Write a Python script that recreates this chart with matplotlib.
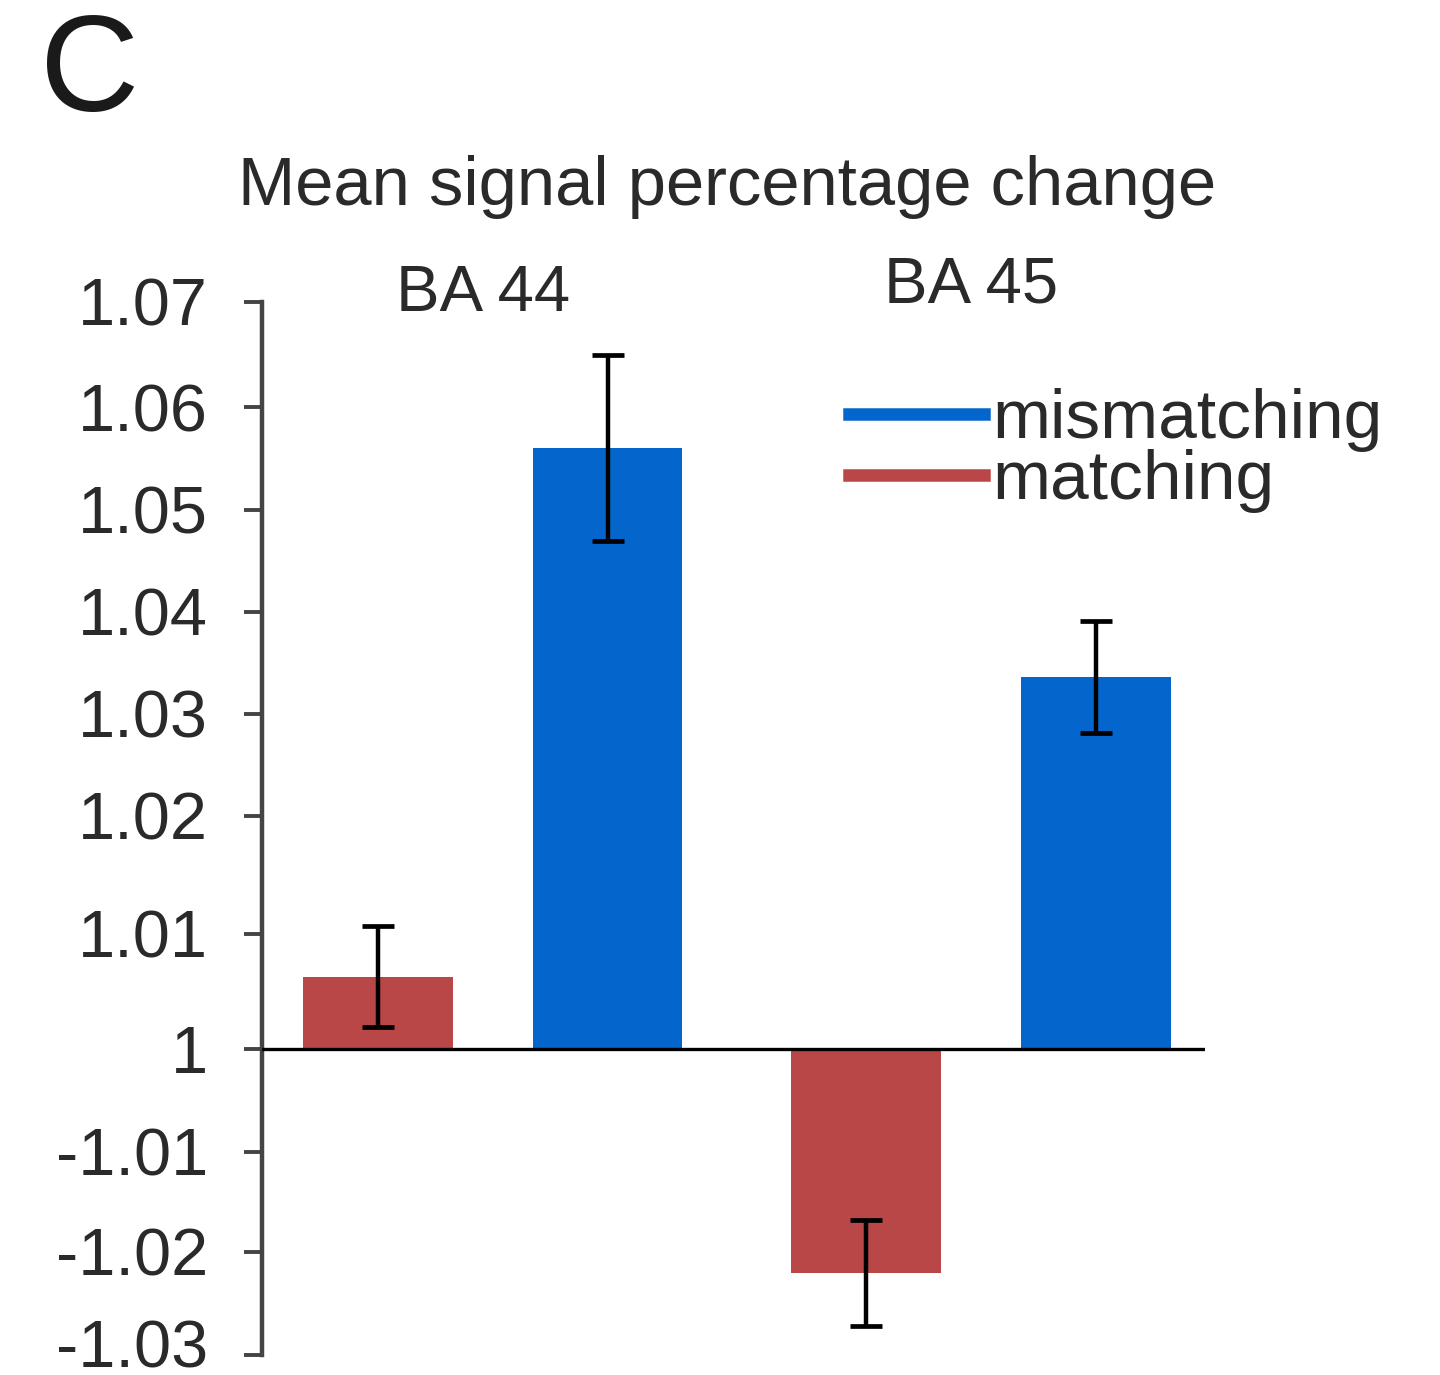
import numpy as np
import matplotlib.pyplot as plt
import matplotlib.transforms as mtransforms
from matplotlib.lines import Line2D

plt.rcParams['font.family'] = ['Liberation Sans', 'DejaVu Sans']

# data
regions = ["BA 44", "BA 45"]
mismatching = [1.056, 1.0336]
mismatching_err = [0.0090, 0.0055]
matching = [1.0063, -1.022]
matching_err = [0.0044, 0.0052]

tick_values = [-1.03, -1.02, -1.01, 1, 1.01, 1.02, 1.03, 1.04, 1.05, 1.06, 1.07]
tick_labels = ["-1.03", "-1.02", "-1.01", "1", "1.01", "1.02", "1.03",
               "1.04", "1.05", "1.06", "1.07"]
# relative gap between neighbouring ticks, as drawn in the original
tick_gaps = [103, 100, 103, 115, 118, 102, 102, 102, 103, 105]

BLUE = "#0466CC"
RED = "#B94747"
TXT = "#2a2a2a"


def to_offset(v):
    # the chart's axis counts hundredths away from +/-1
    v = np.asarray(v, dtype=float)
    return np.sign(v) * (np.abs(v) - 1) * 100


tick_off = to_offset(tick_values)
tick_pos = np.concatenate([[0], np.cumsum(tick_gaps)]) / np.sum(tick_gaps)


def forward(y):
    return np.interp(y, tick_off, tick_pos)


def inverse(u):
    return np.interp(u, tick_pos, tick_off)


fig = plt.figure(figsize=(14.4, 13.75), dpi=100)
ax = fig.add_axes([262 / 1440, 1 - 1355 / 1375, (1205 - 262) / 1440, 1053 / 1375])
ax.set_yscale('function', functions=(forward, inverse))

x = np.arange(1, len(regions) + 1)
w = 0.307
off = 0.235
ekw = dict(ecolor='black', elinewidth=3.2, capsize=11.5, capthick=3.4)
ax.bar(x - off, to_offset(matching), w, color=RED,
       yerr=np.array(matching_err) * 100, error_kw=ekw, zorder=2)
ax.bar(x + off, to_offset(mismatching), w, color=BLUE,
       yerr=np.array(mismatching_err) * 100, error_kw=ekw, zorder=2)

ax.axhline(0, color='black', lw=2.4, zorder=3)
ax.set_xlim(1 - 0.473, 2 + 0.459)
ax.set_ylim(tick_off[0], tick_off[-1])

ax.set_yticks(tick_off)
ax.set_yticklabels(tick_labels)
ax.tick_params(axis='y', direction='out', length=13, width=2.8,
               color='#444444', labelsize=48, labelcolor=TXT, pad=26)
# lowest label sits a little above its tick so it stays inside the frame
low = ax.get_yticklabels()[0]
low.set_transform(low.get_transform() +
                  mtransforms.ScaledTranslation(0, 11 / 100, fig.dpi_scale_trans))
ax.set_xticks([])
for s in ['top', 'right', 'bottom']:
    ax.spines[s].set_visible(False)
ax.spines['left'].set_linewidth(3.2)
ax.spines['left'].set_color('#444444')

# region names above the bars
for xi, name, yy in zip(x, regions, [1.008, 1.016]):
    ax.text(xi - 0.02, yy, name, transform=ax.get_xaxis_transform(),
            ha='center', va='center', fontsize=47, color=TXT)

handles = [Line2D([], [], color=BLUE, lw=9), Line2D([], [], color=RED, lw=9)]
ax.legend(handles, ["mismatching", "matching"], loc='upper left',
          bbox_to_anchor=(0.622, 0.918), frameon=False, fontsize=50,
          handlelength=1.95, handletextpad=0.12, labelspacing=-0.05,
          borderpad=0, borderaxespad=0, labelcolor=TXT)

fig.text(727 / 1440, 1 - 187 / 1375, "Mean signal percentage change",
         ha='center', va='center', fontsize=49.5, color=TXT)
fig.text(40 / 1440, 1 - 76 / 1375, "C", ha='left', va='center',
         fontsize=99, color='#1a1a1a')

fig.savefig("out.png", dpi=100)
